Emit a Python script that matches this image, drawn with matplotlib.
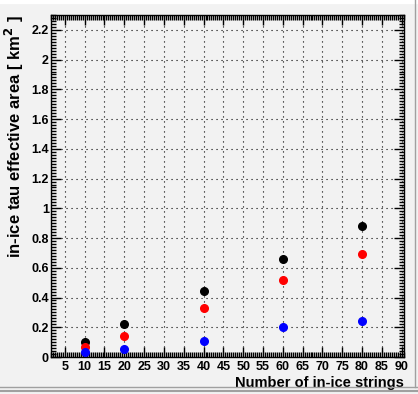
import matplotlib
matplotlib.use("Agg")
import matplotlib.pyplot as plt
from matplotlib.ticker import MultipleLocator, FuncFormatter
from matplotlib.lines import Line2D

plt.rcParams['font.family'] = ['Liberation Sans', 'DejaVu Sans']

# number of in-ice strings
strings = [10, 20, 40, 60, 80]
# effective area [km^2], three series
area_black = [0.103, 0.224, 0.444, 0.662, 0.880]
area_red = [0.068, 0.141, 0.330, 0.518, 0.693]
area_blue = [0.035, 0.054, 0.110, 0.203, 0.245]

bg = '#f2f2f2'
fig = plt.figure(figsize=(4.18, 3.94), dpi=100, facecolor=bg)
ax = fig.add_axes([51 / 418, 37 / 394, 353 / 418, 342 / 394])
ax.set_facecolor(bg)

for ys, c in [(area_black, 'black'), (area_red, 'red'), (area_blue, 'blue')]:
    ax.plot(strings, ys, 'o', color=c, markersize=5.5, linestyle='none', zorder=3)

ax.set_xlim(1.5, 90.6)
ax.set_ylim(0, 2.3)

ax.xaxis.set_major_locator(MultipleLocator(5))
ax.xaxis.set_minor_locator(MultipleLocator(0.5))
ax.yaxis.set_major_locator(MultipleLocator(0.2))
ax.yaxis.set_minor_locator(MultipleLocator(0.02))
ax.yaxis.set_major_formatter(FuncFormatter(lambda v, p: f'{v:.1f}'.rstrip('0').rstrip('.') if v else '0'))

ax.tick_params(which='both', direction='in', top=True, right=True, width=1, colors='black')
ax.tick_params(which='major', length=7)
ax.tick_params(which='minor', length=3.5)
ax.tick_params(axis='both', labelsize=9)
ax.tick_params(axis='y', pad=1.5)
ax.tick_params(axis='x', pad=3)
for lab in ax.get_xticklabels() + ax.get_yticklabels():
    lab.set_fontweight('bold')

ax.grid(True, which='major', linestyle=(0, (1, 3.5)), color='black', linewidth=0.8)
for s in ax.spines.values():
    s.set_linewidth(1)

ax.set_xlabel('Number of in-ice strings', fontsize=10.5, fontweight='bold', loc='right', labelpad=2)
ax.set_ylabel('in-ice tau effective area [ km$^{\\mathbf{2}}$ ]', fontsize=12, fontweight='bold',
              loc='top', labelpad=4)

# canvas bevel
fig.add_artist(Line2D([0, 1], [1 - 2 / 394, 1 - 2 / 394], color='white', linewidth=3, transform=fig.transFigure))
fig.add_artist(Line2D([0, 1], [7 / 394, 7 / 394], color='#a0a0a0', linewidth=1, transform=fig.transFigure))
fig.add_artist(Line2D([0, 1], [3 / 394, 3 / 394], color='#a0a0a0', linewidth=1.5, transform=fig.transFigure))
fig.add_artist(Line2D([415 / 418, 415 / 418], [7 / 394, 1], color='#a0a0a0', linewidth=1, transform=fig.transFigure))

fig.savefig('out.png', dpi=100, facecolor=bg)
